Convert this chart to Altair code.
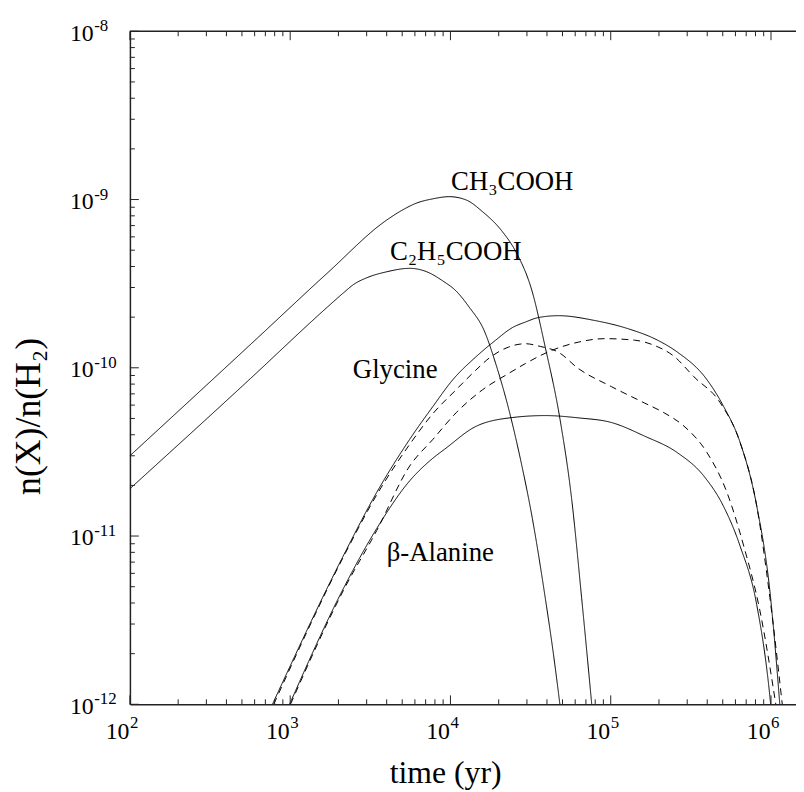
import altair as alt
import pandas as pd

# ---------------- data ----------------
# time (yr) and fractional abundance n(X)/n(H2)
ch3cooh_t = [100, 628, 1702, 4000, 4940, 6120, 7780, 9840, 12470, 15850, 21040, 25470,
             32280, 39000, 48300, 57000, 65800, 76500]
ch3cooh_v = [3.0e-11, 1.51e-10, 3.65e-10, 7.55e-10, 8.59e-10, 9.51e-10, 1.01e-9, 1.04e-9,
             9.96e-10, 8.47e-10, 6.46e-10, 4.93e-10, 2.86e-10, 1.33e-10, 4.92e-11, 1.67e-11,
             4.31e-12, 9.5e-13]

c2h5cooh_t = [100, 545, 1702, 2160, 2490, 3010, 4000, 5570, 7070, 8970, 10840, 13100, 16200,
              19150, 23140, 27340, 32440, 39000, 43740, 48500]
c2h5cooh_v = [1.91e-11, 8.36e-11, 2.29e-10, 2.80e-10, 3.13e-10, 3.43e-10, 3.72e-10, 3.90e-10,
              3.73e-10, 3.28e-10, 2.86e-10, 2.29e-10, 1.67e-10, 1.06e-10, 5.64e-11, 2.86e-11,
              1.27e-11, 4.31e-12, 2.04e-12, 9.5e-13]

glycine_t = [775, 2160, 3470, 5570, 7780, 10330, 14390, 19150, 24270, 29360, 35480, 47180,
             79500, 127600, 195700, 260400, 399000, 505800, 642200, 813500, 984000, 1150000]
glycine_v = [1.0e-12, 7.73e-12, 1.82e-11, 3.76e-11, 5.90e-11, 8.48e-11, 1.16e-10, 1.46e-10,
             1.73e-10, 1.87e-10, 1.99e-10, 2.04e-10, 1.91e-10, 1.71e-10, 1.46e-10, 1.24e-10,
             8.48e-11, 5.90e-11, 3.59e-11, 1.52e-11, 4.71e-12, 8.5e-13]

glycine2_t = [789, 2160, 3470, 5570, 7780, 10840, 14390, 17400, 23140, 29360, 36300, 47000,
              62700, 100900, 162200, 215300, 286400, 399000, 530600, 673000, 853000, 1090000]
glycine2_v = [1.0e-12, 7.59e-12, 1.76e-11, 3.51e-11, 5.35e-11, 7.40e-11, 9.68e-11, 1.14e-10,
              1.33e-10, 1.39e-10, 1.34e-10, 1.24e-10, 9.91e-11, 7.73e-11, 6.18e-11, 5.40e-11,
              4.50e-11, 3.13e-11, 1.82e-11, 8.85e-12, 3.59e-12, 9.0e-13]

alanine2_t = [1004, 2160, 3470, 5570, 7780, 10840, 15850, 23140, 29360, 42950, 62700, 91600,
              140500, 186600, 248300, 330000, 483000, 642000, 813500, 984000, 1190000]
alanine2_v = [1.0e-12, 4.80e-12, 1.08e-11, 2.61e-11, 3.76e-11, 5.40e-11, 7.40e-11, 9.27e-11,
              1.06e-10, 1.27e-10, 1.42e-10, 1.49e-10, 1.46e-10, 1.36e-10, 1.17e-10, 8.85e-11,
              6.18e-11, 3.59e-11, 1.52e-11, 4.31e-12, 9.0e-13]

alanine_t = [991, 2160, 3470, 5570, 7400, 9380, 14390, 24270, 39000, 62700, 100900, 162200,
             260400, 380000, 505800, 642200, 813500, 984000, 1000000]
alanine_v = [1.0e-12, 4.93e-12, 1.11e-11, 2.13e-11, 2.79e-11, 3.33e-11, 4.48e-11, 5.06e-11,
             5.20e-11, 5.04e-11, 4.73e-11, 3.93e-11, 3.13e-11, 2.28e-11, 1.50e-11, 8.69e-12,
             3.93e-12, 1.11e-12, 9.5e-13]

series = [
    ("CH3COOH", "solid", ch3cooh_t, ch3cooh_v),
    ("C2H5COOH", "solid", c2h5cooh_t, c2h5cooh_v),
    ("Glycine", "solid", glycine_t, glycine_v),
    ("Glycine (dashed)", "dashed", glycine2_t, glycine2_v),
    ("beta-Alanine (dashed)", "dashed", alanine2_t, alanine2_v),
    ("beta-Alanine", "solid", alanine_t, alanine_v),
]

label_text = ["CH\u2083COOH", "C\u2082H\u2085COOH", "Glycine", "\u03b2-Alanine"]
label_t = [10090, 4190, 2460, 4000]
label_v = [1.14e-9, 4.40e-10, 8.73e-11, 7.06e-12]

# axis ticks and their labels (10 with a raised exponent)
x_major = [1e2, 1e3, 1e4, 1e5, 1e6]
x_exp = ["2", "3", "4", "5", "6"]
y_major = [1e-12, 1e-11, 1e-10, 1e-9, 1e-8]
y_exp = ["-12", "-11", "-10", "-9", "-8"]

x_max = 1.432e6
x_minor = [k * 10 ** e for e in range(2, 7) for k in range(2, 10) if k * 10 ** e <= x_max]
y_minor = [k * 10.0 ** e for e in range(-12, -8) for k in range(2, 10)]

x_title = "time (yr)"
y_title = "n(X)/n(H\u2082)"

# ---------------- build ----------------
rows = []
for name, dash, ts, vs in series:
    for t, v in zip(ts, vs):
        rows.append({"series": name, "dash": dash, "t": t, "v": v})
df = pd.DataFrame(rows)

W, H = 672, 679
FONT = "Liberation Serif"
BASE_FS = 24
EXP_FS = 17

xs = alt.Scale(type="log", domain=[100, x_max], nice=False)
ys = alt.Scale(type="log", domain=[1e-12, 1e-8], nice=False)

x_axis = alt.Axis(values=x_major, labelExpr="'10'", ticks=False, tickSize=0,
                  grid=False, domainColor="#222", domainWidth=1.5,
                  labelFont=FONT, labelFontSize=BASE_FS, labelColor="black",
                  labelPadding=35, labelBaseline="alphabetic", labelAlign="right",
                  labelOffset=-1,
                  title=x_title, titleFont=FONT, titleFontSize=32,
                  titleFontWeight="normal", titleColor="black",
                  titleX=318, titleY=79, titleBaseline="alphabetic", titleAlign="center")
y_axis = alt.Axis(values=y_major, labelExpr="'10'", ticks=False, tickSize=0,
                  grid=False, domainColor="#222", domainWidth=1.5,
                  labelFont=FONT, labelFontSize=BASE_FS, labelColor="black",
                  labelPadding=61, labelAlign="left", labelBaseline="alphabetic",
                  labelOffset=9,
                  title=y_title, titleFont=FONT, titleFontSize=36,
                  titleFontWeight="normal", titleColor="black",
                  titleX=-91, titleY=388, titleAngle=270,
                  titleBaseline="alphabetic", titleAlign="center")


def X(field="t"):
    return alt.X(field + ":Q", scale=xs, axis=x_axis)


def Y(field="v"):
    return alt.Y(field + ":Q", scale=ys, axis=y_axis)


lines = alt.Chart(df).mark_line(color="black", strokeWidth=1, clip=True,
                                interpolate="monotone").encode(
    x=X(), y=Y(),
    detail="series:N",
    strokeDash=alt.StrokeDash("dash:N",
                              scale=alt.Scale(domain=["solid", "dashed"],
                                              range=[[1, 0], [7, 5]]),
                              legend=None),
)

labels = alt.Chart(pd.DataFrame({"text": label_text, "t": label_t, "v": label_v})).mark_text(
    align="left", baseline="alphabetic", font=FONT, fontSize=27, color="black"
).encode(x=X(), y=Y(), text="text:N")

# exponents of the tick labels
x_exp_marks = alt.Chart(pd.DataFrame({"t": x_major, "e": x_exp})).mark_text(
    align="left", baseline="alphabetic", font=FONT, fontSize=EXP_FS, color="black", dx=0
).encode(x=X(), y=alt.value(H + 24), text="e:N")

y_exp_marks = alt.Chart(pd.DataFrame({"v": y_major, "e": y_exp})).mark_text(
    align="left", baseline="alphabetic", font=FONT, fontSize=EXP_FS, color="black", dy=0
).encode(y=Y(), x=alt.value(-36), text="e:N")

xmaj = pd.DataFrame({"t": x_major})
xmin = pd.DataFrame({"t": x_minor})
ymaj = pd.DataFrame({"v": y_major})
ymin = pd.DataFrame({"v": y_minor})

tick_style = dict(color="#222", strokeWidth=1)


def xticks(data, length, top):
    y0 = 0 if top else H
    y1 = length if top else H - length
    return alt.Chart(data).mark_rule(**tick_style).encode(
        x=X(), y=alt.value(y0), y2=alt.value(y1))


def yticks(data, length):
    return alt.Chart(data).mark_rule(**tick_style).encode(
        y=Y(), x=alt.value(0), x2=alt.value(length))


top_line = alt.Chart(pd.DataFrame({"a": [0]})).mark_rule(color="#222", strokeWidth=1.5).encode(
    x=alt.value(0), x2=alt.value(W), y=alt.value(0))

chart = alt.layer(
    lines, labels, x_exp_marks, y_exp_marks,
    xticks(xmaj, 9, False), xticks(xmin, 5, False),
    xticks(xmaj, 9, True), xticks(xmin, 5, True),
    yticks(ymaj, 9), yticks(ymin, 5),
    top_line,
).properties(
    width=W, height=H,
    autosize=alt.AutoSizeParams(type="none"),
    padding={"left": 123, "top": 20, "right": 0, "bottom": 86},
    background="white",
).configure_view(stroke=None)

chart.save("out.html", embed_options={"renderer": "svg", "actions": False})
